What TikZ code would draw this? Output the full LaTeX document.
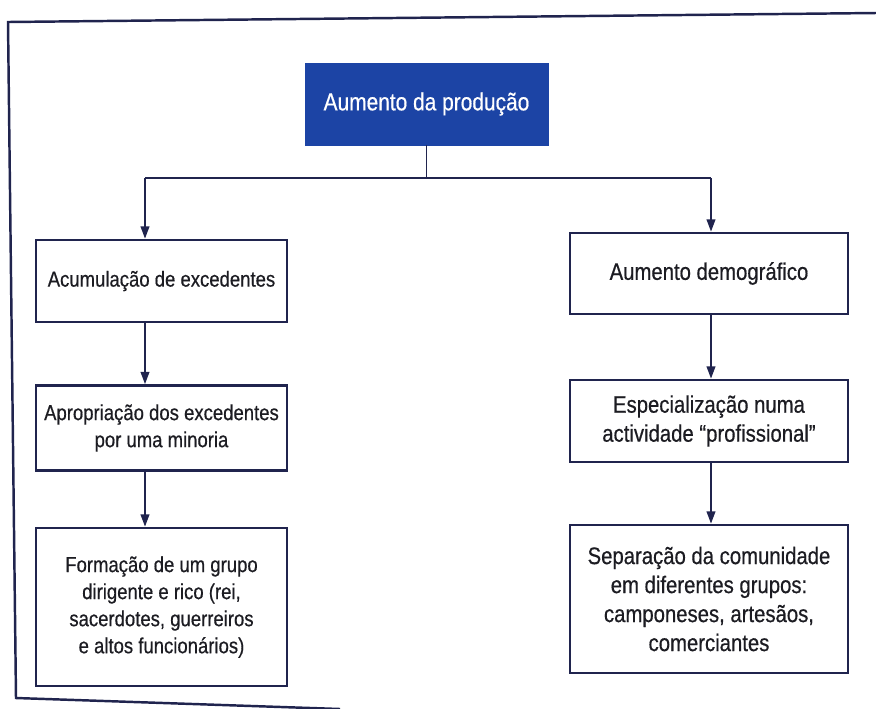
\documentclass[tikz,border=0pt]{standalone}
\usepackage{fontspec}
\setmainfont{Liberation Sans}[FakeStretch=0.85,FakeBold=0.5]
\usetikzlibrary{arrows.meta}
\definecolor{headblue}{RGB}{28,68,165}
\definecolor{boxnavy}{RGB}{32,36,78}
\definecolor{inkgray}{RGB}{28,28,34}

\begin{document}
\begin{tikzpicture}[x=0.02cm,y=-0.02cm,
  stepbox/.style={draw=boxnavy,line width=1.6pt,fill=white,align=center,
    text=inkgray,inner sep=0pt,font=\fontsize{12.4}{15.4}\selectfont},
  widebox/.style={stepbox,font=\fontsize{13.6}{16.5}\selectfont},
  headbox/.style={fill=headblue,draw=headblue,text=white,align=center,
    inner sep=0pt,font=\fontsize{14}{17}\selectfont},
  link/.style={draw=boxnavy,line width=0.9pt},
  arrowlink/.style={link,-{Triangle[length=7pt,width=5pt]}}]
\useasboundingbox (0,0) rectangle (876,708);
% page frame
\draw[line width=1.4pt,color=boxnavy] (876,13) -- (8,22) -- (16,698) -- (340,709);

\node[headbox,minimum width=4.86cm,minimum height=1.64cm] (prod) at (426.5,104) {Aumento da produção};

% left column
\node[stepbox,minimum width=5.02cm,minimum height=1.64cm] (exced) at (161.5,281) {Acumulação de excedentes};
\node[stepbox,minimum width=5.02cm,minimum height=1.70cm] (aprop) at (161.5,428) {Apropriação dos excedentes\\por uma minoria};
\node[stepbox,minimum width=5.02cm,minimum height=3.16cm] (grupo) at (161.5,607) {Formação de um grupo\\dirigente e rico (rei,\\sacerdotes, guerreiros\\e altos funcionários)};

% right column
\node[widebox,minimum width=5.56cm,minimum height=1.62cm] (demog) at (709,273.5) {Aumento demográfico};
\node[widebox,minimum width=5.56cm,minimum height=1.64cm] (espec) at (709,421) {Especialização numa\\actividade “profissional”};
\node[widebox,minimum width=5.56cm,minimum height=2.96cm] (separ) at (709,599) {Separação da comunidade\\em diferentes grupos:\\camponeses, artesãos,\\comerciantes};

% connectors
\coordinate (leftdrop) at (145,178);
\coordinate (rightdrop) at (711,178);
\coordinate (split) at (prod.south |- leftdrop);
\draw[link] (prod.south) -- (split);
\draw[link] (leftdrop) -- (rightdrop);
\draw[arrowlink] (leftdrop) -- (exced.north -| leftdrop);
\draw[arrowlink] (rightdrop) -- (demog.north -| rightdrop);
\draw[arrowlink] (exced.south -| leftdrop) -- (aprop.north -| leftdrop);
\draw[arrowlink] (aprop.south -| leftdrop) -- (grupo.north -| leftdrop);
\draw[arrowlink] (demog.south -| rightdrop) -- (espec.north -| rightdrop);
\draw[arrowlink] (espec.south -| rightdrop) -- (separ.north -| rightdrop);
\end{tikzpicture}
\end{document}
